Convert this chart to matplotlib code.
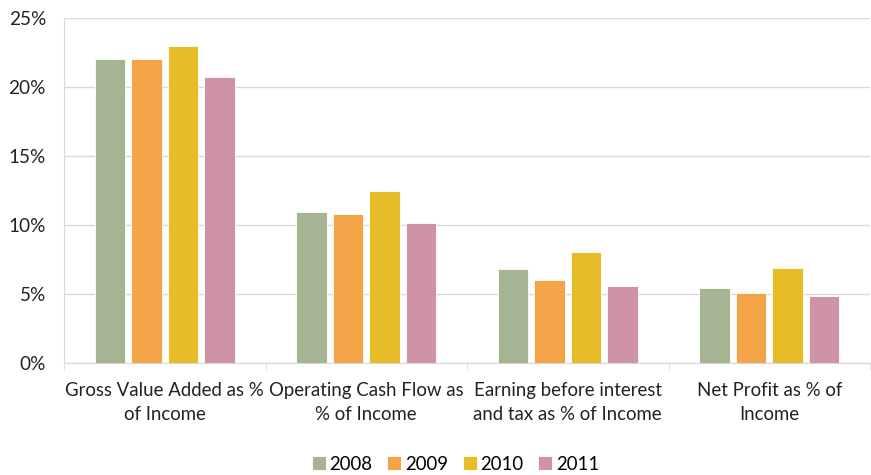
import matplotlib.pyplot as plt
import numpy as np

plt.rcParams['font.family'] = ['Lato', 'DejaVu Sans']

categories = ['Gross Value Added as %\nof Income', 'Operating Cash Flow as\n% of Income',
              'Earning before interest\nand tax as % of Income', 'Net Profit as % of\nIncome']
years = ['2008', '2009', '2010', '2011']
v2008 = [22.0, 10.95, 6.8, 5.45]
v2009 = [22.05, 10.8, 6.05, 5.1]
v2010 = [22.95, 12.45, 8.05, 6.9]
v2011 = [20.75, 10.15, 5.6, 4.85]
colors = ['#A5B592', '#F3A447', '#E7BC29', '#D092A7']

fig = plt.figure(figsize=(8.71, 4.75), dpi=100)
ax = fig.add_axes([64/871, 1-363/475, 806/871, 345/475])

x = np.arange(len(categories))
slot = 0.181
w = 0.152
for i, (vals, c, y) in enumerate(zip([v2008, v2009, v2010, v2011], colors, years)):
    ax.bar(x + (i-1.5)*slot, vals, w, color=c, label=y, edgecolor='white', linewidth=0.6, zorder=3)

ax.set_xlim(-0.5, 3.5)
ax.set_ylim(0, 25)
ax.set_yticks([0, 5, 10, 15, 20, 25])
ax.set_yticklabels([f'{t}%' for t in [0, 5, 10, 15, 20, 25]], fontsize=13.7, color='#222222')
ax.yaxis.grid(True, color='#D9D9D9', linewidth=1, zorder=0)
ax.tick_params(axis='y', length=0, pad=13)

ax.set_xticks(x)
ax.set_xticklabels(categories, fontsize=13.4, color='#222222', linespacing=1.5)
ax.set_xticks(np.arange(-0.5, 4, 1), minor=True)
ax.tick_params(axis='x', which='major', length=0, pad=14)
ax.tick_params(axis='x', which='minor', length=5, color='#D9D9D9')

for s in ['top', 'right']:
    ax.spines[s].set_visible(False)
ax.spines['left'].set_color('#D9D9D9')
ax.spines['bottom'].set_color('#D9D9D9')

fig.legend(loc='lower center', ncol=4, frameon=False, fontsize=13.4,
           handlelength=0.75, handleheight=0.75, handletextpad=0.2, columnspacing=0.8,
           bbox_to_anchor=(0.523, -0.03))

fig.savefig('out.png', dpi=100)
